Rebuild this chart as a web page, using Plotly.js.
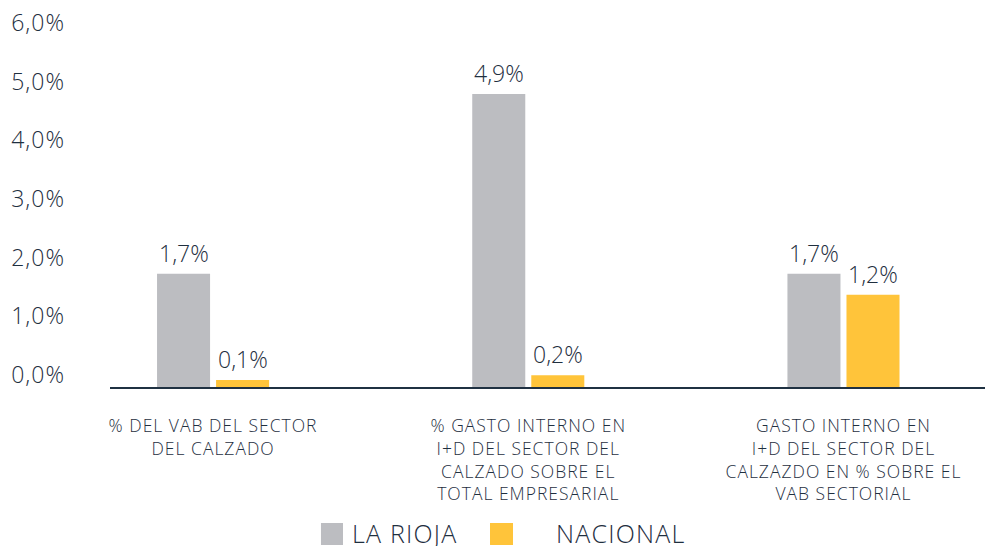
<!DOCTYPE html>
<html>
<head>
<meta charset="utf-8">
<script src="https://cdn.plot.ly/plotly-3.0.1.min.js"></script>
<style>
html,body{margin:0;padding:0;background:#fff;}
#chart{width:985px;height:547px;}
#chart .xtick text{letter-spacing:1px;}
#chart .ytick text{letter-spacing:1px;}
</style>
</head>
<body>
<div id="chart"></div>
<script>
// Categories (x axis labels)
const categories = [
  "% DEL VAB DEL SECTOR<br>DEL CALZADO",
  "% GASTO INTERNO EN<br>I+D DEL SECTOR DEL<br>CALZADO SOBRE EL<br>TOTAL EMPRESARIAL",
  "GASTO INTERNO EN<br>I+D DEL SECTOR DEL<br>CALZAZDO EN % SOBRE EL<br>VAB SECTORIAL"
];
// Series names
const seriesNames = ["LA RIOJA", "NACIONAL"];
// Bar heights as drawn in the picture (%)
const laRiojaValues = [1.93, 4.99, 1.93];
const nacionalValues = [0.12, 0.20, 1.57];
// Value labels as printed above the bars
const laRiojaLabels = ["1,7%", "4,9%", "1,7%"];
const nacionalLabels = ["0,1%", "0,2%", "1,2%"];
// Y tick values and labels
const yTickVals = [0, 1, 2, 3, 4, 5, 6];
const yTickText = ["0,0%", "1,0%", "2,0%", "3,0%", "4,0%", "5,0%", "6,0%"];

const FONT = "'Open Sans', 'Noto Sans', sans-serif";
const W = 300;
const TXT = "#1f2f3f";
const GRAY = "#bcbdc1";
const YELLOW = "#ffc43a";

const traces = [
  { type: "bar", name: seriesNames[0], x: categories, y: laRiojaValues,
    marker: { color: GRAY }, hoverinfo: "skip" },
  { type: "bar", name: seriesNames[1], x: categories, y: nacionalValues,
    marker: { color: YELLOW }, hoverinfo: "skip" }
];

const annotations = [];
categories.forEach((c, i) => {
  annotations.push({ x: c, y: laRiojaValues[i], xref: "x", yref: "y", text: laRiojaLabels[i],
    showarrow: false, xshift: -29.5, yshift: 21, yanchor: "middle",
    font: { family: FONT, size: 23, color: TXT, weight: W } });
  annotations.push({ x: c, y: nacionalValues[i], xref: "x", yref: "y", text: nacionalLabels[i],
    showarrow: false, xshift: 29.5, yshift: 21, yanchor: "middle",
    font: { family: FONT, size: 23, color: TXT, weight: W } });
});
// Custom legend text
const legSpan = t => '<span style="letter-spacing:1.2px">' + t + '</span>';
annotations.push({ xref: "paper", yref: "paper", x: 0.2743, y: -0.4, xanchor: "left", yanchor: "middle",
  height: 26, text: legSpan(seriesNames[0]), showarrow: false,
  font: { family: FONT, size: 25, color: TXT, weight: W } });
annotations.push({ xref: "paper", yref: "paper", x: 0.5075, y: -0.4, xanchor: "left", yanchor: "middle",
  height: 26, text: legSpan(seriesNames[1]), showarrow: false,
  font: { family: FONT, size: 25, color: TXT, weight: W } });

const shapes = [
  { type: "rect", xref: "paper", yref: "paper", x0: 0.2411, x1: 0.2663, y0: -0.434, y1: -0.3736,
    fillcolor: GRAY, line: { width: 0 } },
  { type: "rect", xref: "paper", yref: "paper", x0: 0.4343, x1: 0.4606, y0: -0.434, y1: -0.3736,
    fillcolor: YELLOW, line: { width: 0 } }
];

const layout = {
  width: 985, height: 547,
  margin: { l: 110, r: 0, t: 23, b: 160 },
  paper_bgcolor: "#fff", plot_bgcolor: "#fff",
  barmode: "group", bargap: 0.6254, bargroupgap: 0.1017,
  showlegend: false,
  font: { family: FONT, color: TXT },
  xaxis: {
    type: "category", range: [-0.327, 2.449],
    showline: true, linecolor: "#1f3142", linewidth: 2,
    showgrid: false, zeroline: false, ticks: "",
    tickfont: { family: FONT, size: 17.5, color: TXT, weight: W },
    ticklabelstandoff: 22, fixedrange: true
  },
  yaxis: {
    range: [0, 6.2], tickmode: "array", tickvals: yTickVals, ticktext: yTickText,
    showline: false, showgrid: false, zeroline: false, ticks: "",
    tickfont: { family: FONT, size: 23, color: TXT, weight: W },
    ticklabelshift: -12, ticklabelstandoff: 44, fixedrange: true
  },
  annotations: annotations,
  shapes: shapes
};

Plotly.newPlot("chart", traces, layout, { displayModeBar: false, staticPlot: true });
</script>
</body>
</html>
